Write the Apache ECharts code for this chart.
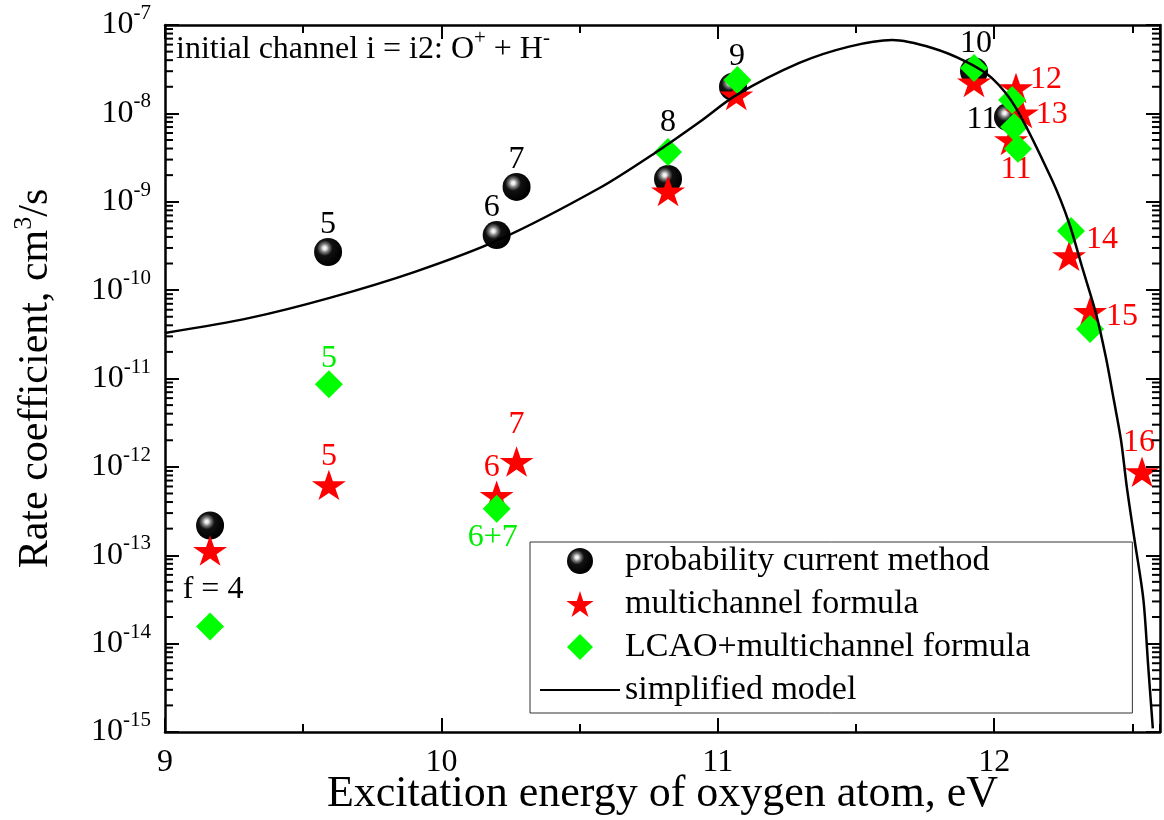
<!DOCTYPE html>
<html>
<head>
<meta charset="utf-8">
<script src="https://cdn.jsdelivr.net/npm/echarts@6/dist/echarts.min.js"></script>
<style>
html, body { margin: 0; padding: 0; background: #fff; }
#rateChart { width: 1164px; height: 820px; }
</style>
</head>
<body>
<div id="rateChart"></div>
<script>
// probability current method (black spheres)
var sphereX = [9.163, 9.59, 10.2, 10.272, 10.82, 11.055, 11.927, 12.05];
var sphereY = [2.17e-13, 2.7e-10, 4.2e-10, 1.47e-9, 1.81e-9, 2.0e-8, 3.0e-8, 9.1e-9];
var sphereText = ['f = 4', '5', '6', '7', '8', '9', '10', '11'];

// multichannel formula (red stars)
var starX = [9.163, 9.593, 10.2, 10.272, 10.82, 11.067, 11.927, 12.061, 12.079, 12.1, 12.271, 12.347, 12.535];
var starY = [1.13e-13, 6.25e-13, 4.73e-13, 1.15e-12, 1.32e-9, 1.61e-8, 2.26e-8, 5.0e-9, 1.94e-8, 1.01e-8, 2.44e-10, 5.7e-11, 8.8e-13];
var starText = ['', '5', '6', '7', '', '', '', '11', '12', '13', '14', '15', '16'];

// LCAO+multichannel formula (green diamonds)
var diamondX = [9.163, 9.593, 10.2, 10.82, 11.071, 11.927, 12.065, 12.072, 12.086, 12.278, 12.347];
var diamondY = [1.56e-14, 8.6e-12, 3.35e-13, 3.66e-9, 2.39e-8, 3.27e-8, 1.42e-8, 7.0e-9, 3.98e-9, 4.68e-10, 3.64e-11];
var diamondText = ['', '5', '6+7', '', '', '', '', '', '', '', ''];

// simplified model (black line)
var modelX = [9.0, 9.307, 9.596, 9.904, 10.207, 10.572, 10.778, 10.934, 11.067, 11.295, 11.475, 11.631, 11.776, 11.898, 11.992, 12.079, 12.209, 12.271, 12.318, 12.368, 12.404, 12.433, 12.459, 12.48, 12.508, 12.54, 12.557, 12.574];
var modelY = [3.28e-11, 4.85e-11, 8.17e-11, 1.61e-10, 3.7e-10, 1.43e-9, 3.66e-9, 8.0e-9, 1.61e-8, 3.72e-8, 5.69e-8, 6.76e-8, 5.5e-8, 3.85e-8, 2.51e-8, 1.15e-8, 1.77e-9, 5.75e-10, 1.83e-10, 5.5e-11, 1.75e-11, 5.7e-12, 2.0e-12, 5.9e-13, 1.49e-13, 3.13e-14, 5.75e-15, 1.1e-15];

var seriesNames = ['probability current method', 'multichannel formula', 'LCAO+multichannel formula', 'simplified model'];
var yDecades = [-15, -14, -13, -12, -11, -10, -9, -8];
var minorSteps = [2, 3, 4, 5, 6, 7, 8, 9];

var FONT = 'Liberation Serif';

/* 标签偏移 (text offset from the marker, px) */
var sphereOffset = [[3, 64], [0, -27], [-5, -27], [0, -27], [0, -56], [4, -30], [2, -28], [-26, 3]];
var starOffset = [[0, 0], [0, -28], [-5, -28], [0, -37], [0, 0], [0, 0], [0, 0], [5, 30], [30, -8], [30, 2], [33, -16], [32, 5], [-3, -29]];
var diamondOffset = [[0, 0], [0, -26], [-4, 29]];

var rateChartObj = {
    myChart : echarts.init(document.getElementById('rateChart')),
    option : null,
    init : function(){
        var that = this;
        that.render();
    },
    points : function(xs, ys, texts, offsets, color){
        var arr = [];
        for(var i = 0; i < xs.length; i++){
            var item = { value : [xs[i], ys[i]] };
            if(texts[i]){
                item.label = {
                    show : true,
                    formatter : texts[i],
                    offset : offsets[i],
                    color : color
                };
            }
            arr.push(item);
        }
        return arr;
    },
    render : function(){
        var that = this;
        var supRich = {
            s : { fontFamily : FONT, fontSize : 21, lineHeight : 16, verticalAlign : 'top', color : '#000' }
        };
        var minorData = [];
        yDecades.forEach(function(e){
            minorSteps.forEach(function(k){
                minorData.push([9, k * Math.pow(10, e)]);
            });
        });
        var modelData = modelX.map(function(x, i){ return [x, modelY[i]]; });
        var labelBase = {
            show : false,
            position : 'inside',
            fontFamily : FONT,
            fontSize : 32
        };
        var xCommon = function(pos, interval, len, showLine, showLabel){
            return {
                type : 'value',
                position : pos,
                min : 9,
                max : 12.6,
                interval : interval,
                splitLine : { show : false },
                axisLine : { show : showLine, onZero : false, lineStyle : { color : '#000', width : 2.5 } },
                axisTick : { show : true, inside : true, length : len, lineStyle : { color : '#000', width : 2 } },
                axisLabel : {
                    show : showLabel,
                    showMaxLabel : false,
                    margin : 15,
                    fontFamily : FONT,
                    fontSize : 32,
                    color : '#000',
                    formatter : function(v){ return v % 1 === 0 ? String(v) : ''; }
                }
            };
        };
        var xMain = xCommon('bottom', 1, 14, true, true);
        xMain.name = 'Excitation energy of oxygen atom, eV';
        xMain.nameLocation = 'middle';
        xMain.nameGap = 40;
        xMain.nameMoveOverlap = false;
        xMain.nameTextStyle = { fontFamily : FONT, fontSize : 44, color : '#000' };

        that.option = {
            backgroundColor : '#fff',
            animation : false,
            grid : { left : 165, right : 4, top : 25, bottom : 88, outerBoundsMode : 'none', containLabel : false },
            title : {
                text : 'initial channel i = i2: O{s|+} + H{s|-}',
                left : 176,
                top : 28,
                padding : 0,
                textStyle : {
                    fontFamily : FONT, fontSize : 32, lineHeight : 44, fontWeight : 'normal', color : '#000',
                    rich : supRich
                }
            },
            legend : {
                data : [
                    seriesNames[0],
                    seriesNames[1],
                    seriesNames[2],
                    { name : seriesNames[3], itemStyle : { opacity : 0 } }
                ],
                orient : 'vertical',
                left : 530,
                top : 542,
                padding : [2, 102, 6, 9],
                itemGap : 9,
                itemWidth : 80,
                itemHeight : 26,
                backgroundColor : '#fff',
                borderColor : '#333',
                borderWidth : 1,
                borderRadius : 0,
                textStyle : { fontFamily : FONT, fontSize : 34, lineHeight : 34, color : '#000' }
            },
            xAxis : [
                xMain,
                xCommon('bottom', 0.5, 8, false, false),
                xCommon('top', 1, 14, true, false),
                xCommon('top', 0.5, 8, false, false)
            ],
            yAxis : [
                {
                    type : 'log',
                    logBase : 10,
                    position : 'left',
                    min : 1e-15,
                    max : 1e-7,
                    splitLine : { show : false },
                    axisLine : { show : true, lineStyle : { color : '#000', width : 2.5 } },
                    axisTick : { show : true, inside : true, length : 14, lineStyle : { color : '#000', width : 2 } },
                    axisLabel : {
                        margin : 14,
                        fontFamily : FONT,
                        fontSize : 32,
                        lineHeight : 44,
                        color : '#000',
                        rich : supRich,
                        formatter : function(v){
                            var e = Math.round(Math.log10(v));
                            return '10{s|' + e + '}';
                        }
                    },
                    name : 'Rate coefficient, cm{s|3}/s',
                    nameLocation : 'middle',
                    nameGap : 104,
                    nameMoveOverlap : false,
                    nameTextStyle : { fontFamily : FONT, fontSize : 42, lineHeight : 50, color : '#000', rich : {
                        s : { fontFamily : FONT, fontSize : 26, lineHeight : 18, verticalAlign : 'top', color : '#000' }
                    } }
                },
                {
                    type : 'log',
                    logBase : 10,
                    position : 'right',
                    min : 1e-15,
                    max : 1e-7,
                    splitLine : { show : false },
                    axisLine : { show : true, lineStyle : { color : '#000', width : 2.5 } },
                    axisTick : { show : true, inside : true, length : 14, lineStyle : { color : '#000', width : 2 } },
                    axisLabel : { show : false }
                }
            ],
            series : [
                {
                    name : seriesNames[0],
                    type : 'scatter',
                    symbol : 'circle',
                    symbolSize : 28,
                    itemStyle : {
                        opacity : 1,
                        color : {
                            type : 'radial', x : 0.38, y : 0.36, r : 0.62,
                            colorStops : [
                                { offset : 0, color : '#ffffff' },
                                { offset : 0.1, color : '#e8e8e8' },
                                { offset : 0.25, color : '#7a7a7a' },
                                { offset : 0.45, color : '#111111' },
                                { offset : 1, color : '#000000' }
                            ]
                        }
                    },
                    label : labelBase,
                    data : that.points(sphereX, sphereY, sphereText, sphereOffset, '#000'),
                    z : 2
                },
                {
                    name : seriesNames[1],
                    type : 'scatter',
                    symbol : 'path://M50,0L61.2,34.5L97.6,34.5L68.2,55.9L79.4,90.5L50,69.1L20.6,90.5L31.8,55.9L2.4,34.5L38.8,34.5Z',
                    symbolSize : [34, 32],
                    symbolKeepAspect : true,
                    itemStyle : { color : '#ff0000', opacity : 1 },
                    label : labelBase,
                    data : that.points(starX, starY, starText, starOffset, '#ff0000'),
                    z : 3
                },
                {
                    name : seriesNames[2],
                    type : 'scatter',
                    symbol : 'path://M50,0L100,50L50,100L0,50Z',
                    symbolSize : 28,
                    symbolKeepAspect : true,
                    itemStyle : { color : '#00ff00', opacity : 1 },
                    label : labelBase,
                    data : that.points(diamondX, diamondY, diamondText, diamondOffset, '#00ee00'),
                    z : 4
                },
                {
                    name : seriesNames[3],
                    type : 'line',
                    symbol : 'none',
                    smooth : 0.3,
                    lineStyle : { color : '#000', width : 2.5 },
                    itemStyle : { color : '#000' },
                    data : modelData,
                    z : 5
                },
                {
                    type : 'custom',
                    silent : true,
                    renderItem : function(params, api){
                        var y = api.coord([api.value(0), api.value(1)])[1];
                        var cs = params.coordSys;
                        return {
                            type : 'group',
                            children : [
                                { type : 'line', shape : { x1 : cs.x, y1 : y, x2 : cs.x + 8, y2 : y }, style : { stroke : '#000', lineWidth : 2 } },
                                { type : 'line', shape : { x1 : cs.x + cs.width, y1 : y, x2 : cs.x + cs.width - 8, y2 : y }, style : { stroke : '#000', lineWidth : 2 } }
                            ]
                        };
                    },
                    data : minorData,
                    z : 6
                }
            ]
        };
        that.myChart.setOption(that.option);
    }
};
rateChartObj.init();
</script>
</body>
</html>
